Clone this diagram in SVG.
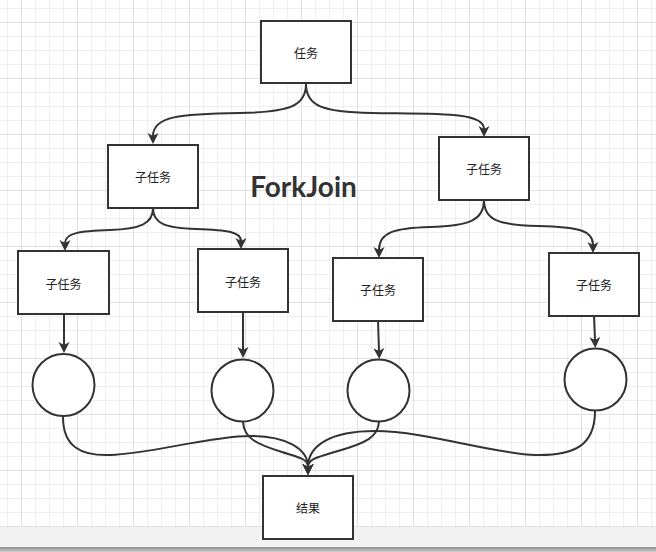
<svg xmlns="http://www.w3.org/2000/svg" width="656" height="552" viewBox="0 0 656 552">
<style>
.box{fill:#fff;stroke:#333;stroke-width:2}
.circ{fill:#fff;stroke:#333;stroke-width:2}
.lbl{font-family:"Noto Sans CJK SC","Microsoft YaHei",sans-serif;font-size:12px;fill:#222;text-anchor:middle;dominant-baseline:central}
.edge{fill:none;stroke:#333;stroke-width:2;marker-end:url(#arr)}
.title{font-family:Lato,"Open Sans",sans-serif;font-weight:bold;font-size:28px;fill:#333;text-anchor:middle}
</style>
<defs>
<pattern id="grid" patternUnits="userSpaceOnUse" x="21" y="22" width="56" height="56">
<rect x="0" y="0" width="56" height="56" fill="#fff"/>
<rect x="14" y="0" width="1" height="56" fill="#efefef"/>
<rect x="28" y="0" width="1" height="56" fill="#efefef"/>
<rect x="42" y="0" width="1" height="56" fill="#efefef"/>
<rect x="0" y="14" width="56" height="1" fill="#efefef"/>
<rect x="0" y="28" width="56" height="1" fill="#efefef"/>
<rect x="0" y="42" width="56" height="1" fill="#efefef"/>
<rect x="0" y="0" width="1" height="56" fill="#e0e0e0"/>
<rect x="0" y="0" width="56" height="1" fill="#e0e0e0"/>
</pattern>
<linearGradient id="bar" x1="0" y1="0" x2="0" y2="1">
<stop offset="0" stop-color="#8a8a8a"/>
<stop offset="1" stop-color="#cfcfcf"/>
</linearGradient>
<marker id="arr" markerUnits="userSpaceOnUse" markerWidth="12" markerHeight="12" refX="3" refY="5.5" orient="auto" viewBox="0 0 12 11">
<path d="M0,0 L11,5.5 L0,11 L3,5.5 Z" fill="#333"/>
</marker>
</defs>
<rect x="0" y="0" width="656" height="527" fill="url(#grid)"/>
<rect x="0" y="527" width="656" height="20" fill="#f2f2f2"/>
<rect x="0" y="547" width="656" height="5" fill="url(#bar)"/>

<g id="connectors">
<path class="edge" d="M306,84 C306,106 290,112 240,113 C180,114 153,116 153,136"/>
<path class="edge" d="M306,84 C306,106 322,112 372,113 C440,114 484,112 484,129"/>
<path class="edge" d="M153,208 C153,224 140,229 110,230 C80,231 65,233 65,243"/>
<path class="edge" d="M153,208 C153,224 166,228 196,229 C228,230 241,232 241,241"/>
<path class="edge" d="M484,200 C484,220 470,226 430,227 C395,228 379,232 379,250"/>
<path class="edge" d="M484,200 C484,220 498,225 538,226 C578,227 593,230 593,245"/>
<path class="edge" d="M64,314 L64,345"/>
<path class="edge" d="M243,312 L243,350"/>
<path class="edge" d="M378,321 L379,351"/>
<path class="edge" d="M594,316 L595,340"/>
<path class="edge" d="M63,417 C63,446 80,456 110,455 C150,454 210,436 250,436 C285,436 308,448 308,467"/>
<path class="edge" d="M243,422 C244,438 256,444 282,452 C300,458 308,459 308,467"/>
<path class="edge" d="M379,422 C378,437 366,443 338,451 C318,457 308,459 308,467"/>
<path class="edge" d="M595,411 C595,445 575,456 535,455 C495,454 425,431 375,431 C330,431 308,446 308,467"/>
</g>

<g id="task"><rect class="box" x="261" y="21" width="90" height="62"/><text class="lbl" x="306" y="52">任务</text></g>
<g id="sub-l"><rect class="box" x="108" y="145" width="90" height="63"/><text class="lbl" x="153" y="176">子任务</text></g>
<g id="sub-r"><rect class="box" x="439" y="137" width="90" height="63"/><text class="lbl" x="484" y="168">子任务</text></g>
<g id="sub-ll"><rect class="box" x="18" y="251" width="91" height="63"/><text class="lbl" x="63.5" y="283">子任务</text></g>
<g id="sub-lr"><rect class="box" x="198" y="249" width="90" height="63"/><text class="lbl" x="243" y="281">子任务</text></g>
<g id="sub-rl"><rect class="box" x="333" y="258" width="90" height="63"/><text class="lbl" x="378" y="289">子任务</text></g>
<g id="sub-rr"><rect class="box" x="549" y="253" width="90" height="63"/><text class="lbl" x="594" y="284">子任务</text></g>
<g id="c-ll"><circle class="circ" cx="63.5" cy="385" r="31"/></g>
<g id="c-lr"><circle class="circ" cx="242.5" cy="390.5" r="31"/></g>
<g id="c-rl"><circle class="circ" cx="378.5" cy="390.5" r="31"/></g>
<g id="c-rr"><circle class="circ" cx="595.5" cy="379.5" r="31"/></g>
<g id="result"><rect class="box" x="263" y="476" width="90" height="63"/><text class="lbl" x="308" y="507">结果</text></g>
<g id="title"><text class="title" x="303.5" y="197">ForkJoin</text></g>
</svg>
